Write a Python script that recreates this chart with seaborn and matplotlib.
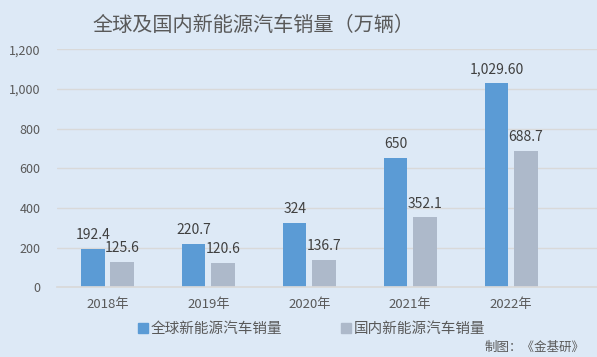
import pandas as pd
import seaborn as sns
import matplotlib.pyplot as plt
from matplotlib.ticker import StrMethodFormatter
from matplotlib.lines import Line2D

# data
years = ['2018年', '2019年', '2020年', '2021年', '2022年']
global_sales = [192.4, 220.7, 324, 650, 1029.6]
china_sales = [125.6, 120.6, 136.7, 352.1, 688.7]
global_labels = ['192.4', '220.7', '324', '650', '1,029.60']
china_labels = ['125.6', '120.6', '136.7', '352.1', '688.7']
series = ['全球新能源汽车销量', '国内新能源汽车销量']

bg = '#dde9f6'
colors = {series[0]: '#5b9bd5', series[1]: '#adb9ca'}

df = pd.DataFrame({
    'year': years * 2,
    'sales': global_sales + china_sales,
    'series': [series[0]] * len(years) + [series[1]] * len(years),
})

sns.set_theme(style='white')
plt.rcParams['font.family'] = ['Noto Sans CJK SC', 'DejaVu Sans']

fig = plt.figure(figsize=(5.97, 3.57), dpi=100, facecolor=bg)
ax = fig.add_axes([57 / 597, 1 - 287.3 / 357, 1 - 57 / 597, (287.3 - 49.3) / 357])
ax.set_facecolor(bg)

sns.barplot(data=df, x='year', y='sales', hue='series', palette=colors,
            width=0.58, gap=0.2, saturation=1, linewidth=0, edgecolor='none',
            ax=ax, legend=False)

for cont, labs in zip(ax.containers, [global_labels, china_labels]):
    ax.bar_label(cont, labels=labs, padding=5, fontsize=10, color='#404040')

ax.set_ylim(0, 1200)
ax.set_xlim(-0.5, 4.85)
ax.set_yticks(range(0, 1201, 200))
ax.yaxis.set_major_formatter(StrMethodFormatter('{x:,.0f}'))
ax.grid(axis='y', color='#d9d9d9', linewidth=1)
ax.set_axisbelow(True)
for s in ['top', 'right', 'left']:
    ax.spines[s].set_visible(False)
ax.spines['bottom'].set_color('#d9d9d9')
ax.tick_params(axis='y', length=0, pad=12, labelsize=9, labelcolor='#595959')
ax.tick_params(axis='x', length=0, pad=8, labelsize=9.5, labelcolor='#595959')
ax.set_xlabel('')
ax.set_ylabel('')

fig.text(254 / 597, 1 - 25 / 357, '全球及国内新能源汽车销量（万辆）', ha='center', va='center',
         fontsize=14.5, fontweight='light', color='#595959')

handles = [Line2D([], [], marker='s', linestyle='', markersize=7, color=colors[s]) for s in series]
fig.legend(handles, series, loc='center', bbox_to_anchor=(311 / 597, 1 - 329 / 357),
           ncol=2, frameon=False, fontsize=10.5, labelcolor='#595959',
           handletextpad=0.1, columnspacing=4, handlelength=0.8)

fig.text(585 / 597, 1 - 347 / 357, '制图：《金基研》', ha='right', va='center',
         fontsize=9, color='#595959')

plt.savefig('out.png', dpi=100, facecolor=bg)
